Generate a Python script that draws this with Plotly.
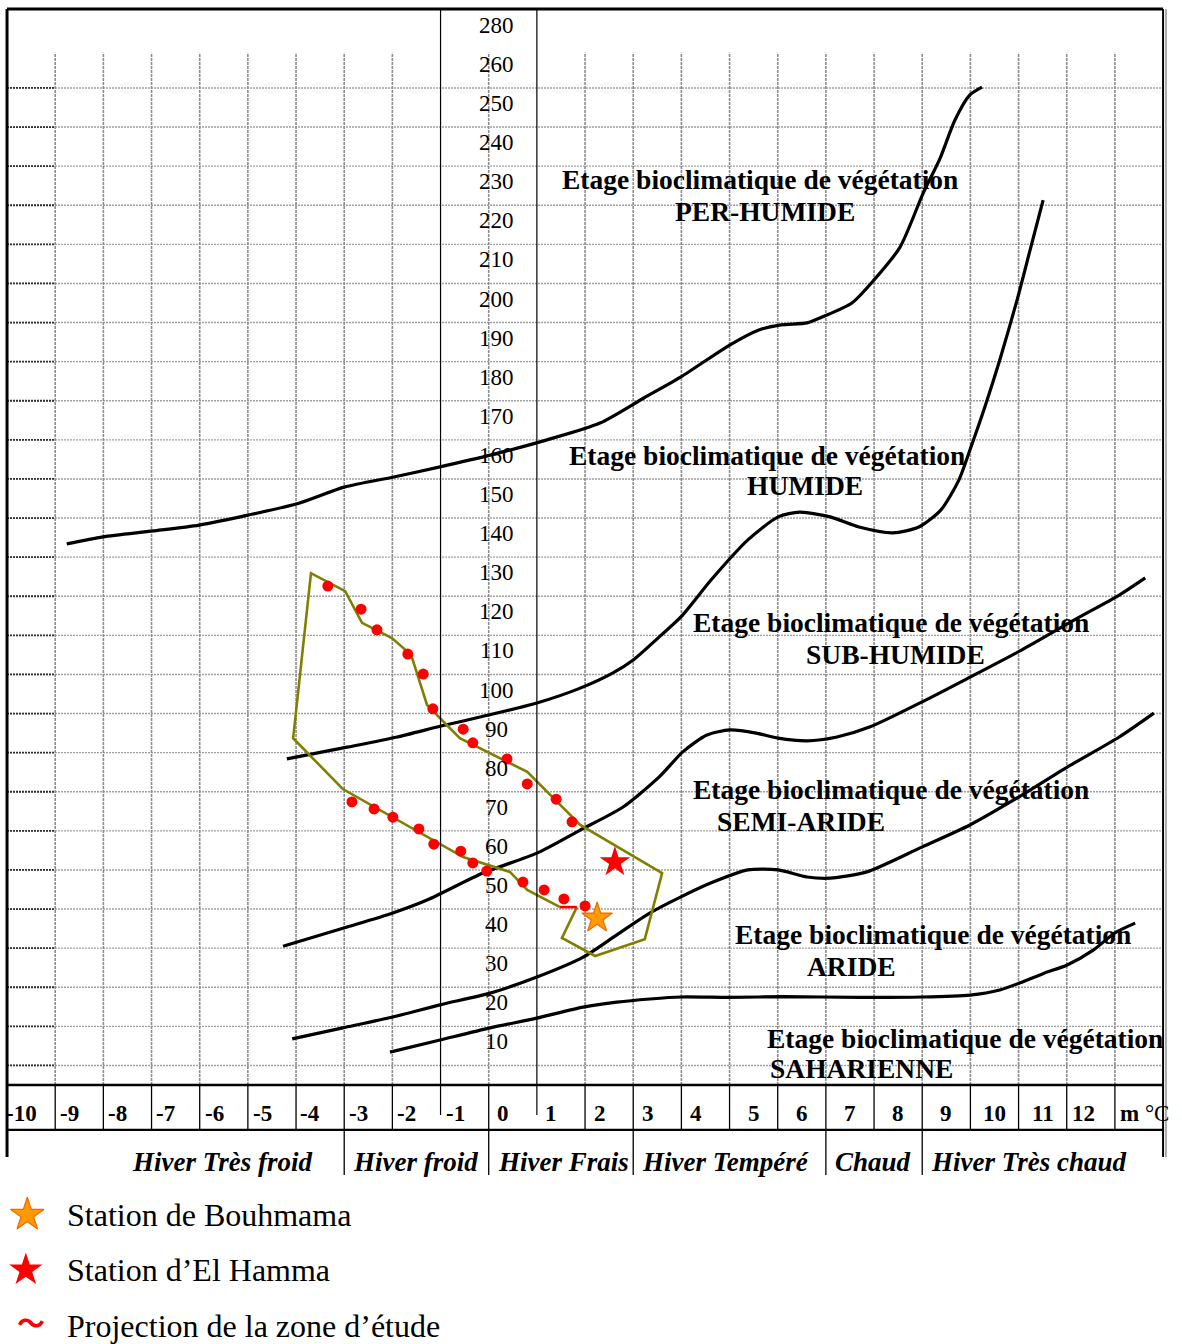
import plotly.graph_objects as go

# ---------------- data (m in °C, Q2) ----------------
per_humide_m = [-9.26, -8.51, -7.47, -6.51, -5.48, -4.44, -3.50, -2.47, -1.51, -0.47, 0.71, 1.81, 2.72, 3.49,
                4.51, 5.11, 5.57, 6.11, 6.42, 7.04, 7.50, 8.04, 8.52, 8.87, 9.18, 9.49, 9.74]
per_humide_q = [138.4, 140.2, 141.7, 143.2, 145.8, 148.8, 152.9, 155.5, 158.1, 161.1, 165.0, 169.3, 175.7, 181.1,
                189.3, 193.1, 194.4, 194.9, 196.4, 200.0, 205.9, 214.3, 228.1, 237.0, 246.8, 253.2, 255.2]

humide_m = [-4.69, -3.44, -2.40, -1.49, -0.68, 0.50, 1.40, 2.08, 2.50, 3.04, 3.49, 4.12, 4.88, 5.51, 5.96,
            6.59, 7.19, 7.89, 8.43, 8.89, 9.26, 9.49, 9.80, 10.11, 10.47, 10.74, 11.01]
humide_q = [83.4, 86.4, 89.0, 91.8, 94.1, 97.7, 101.5, 105.4, 108.7, 114.6, 119.7, 129.2, 139.4, 145.3, 146.5,
            145.3, 142.7, 141.2, 142.7, 147.1, 154.7, 162.4, 173.4, 185.4, 200.8, 213.6, 226.3]

subhumide_m = [-4.77, -3.44, -2.49, -1.78, -0.62, 0.50, 1.40, 2.29, 3.04, 3.53, 4.03, 4.51, 5.05, 5.51, 6.11,
               6.73, 7.42, 8.50, 9.49, 10.57, 11.65, 12.59, 13.13]
subhumide_q = [35.5, 40.4, 44.0, 47.3, 54.2, 59.3, 65.2, 71.1, 78.8, 85.2, 89.5, 90.8, 90.0, 88.7, 88.0,
               89.0, 91.6, 98.0, 104.3, 111.3, 118.9, 125.3, 129.7]

semiaride_m = [-4.58, -3.53, -2.49, -1.51, -0.47, 0.50, 1.46, 2.16, 2.85, 3.49, 4.12, 4.88, 5.51, 6.11, 6.59,
               7.35, 8.50, 9.49, 10.51, 11.51, 12.59, 13.31]
semiaride_q = [11.8, 14.6, 17.4, 20.5, 23.5, 27.6, 32.7, 38.4, 44.0, 48.1, 51.7, 55.0, 55.0, 53.2, 52.9,
               54.5, 60.9, 66.5, 73.7, 81.3, 89.0, 95.1]

aride_m = [-2.55, -1.51, -0.47, 0.50, 1.46, 2.16, 2.85, 3.49, 4.51, 5.65, 7.19, 8.50, 9.49, 10.11, 10.57,
           11.03, 11.51, 12.05, 12.50, 12.92]
aride_q = [8.4, 11.5, 14.6, 17.1, 19.9, 21.2, 22.0, 22.5, 22.4, 22.6, 22.4, 22.5, 23.0, 24.3, 26.3,
           28.6, 30.7, 34.5, 38.9, 41.4]

zone_m = [1.33, 1.02, 1.71, 2.74, 3.10, 1.40, 0.30, -1.10, -1.78, -2.11, -2.51, -3.13, -3.48, -4.19,
          -4.56, -3.53, -1.03, -0.06, 0.30, 0.98]
zone_q = [45.5, 37.6, 33.0, 37.3, 54.2, 66.5, 80.1, 88.7, 97.2, 110.0, 114.3, 118.2, 126.3, 130.9,
          88.7, 75.7, 58.3, 54.5, 49.9, 45.5]

proj_m = [-3.84, -3.15, -2.82, -2.18, -1.86, -1.66, -1.03, -0.83, -0.12, 0.30, 0.90, 1.23,
          -3.34, -2.88, -2.49, -1.95, -1.64, -1.08, -0.83, -0.54, 0.21, 0.65, 1.06, 1.50]
proj_q = [127.6, 121.7, 116.4, 110.2, 105.1, 96.2, 91.0, 87.5, 83.4, 77.0, 73.1, 67.3,
          72.4, 70.6, 68.5, 65.5, 61.6, 59.8, 56.8, 54.7, 51.9, 49.9, 47.6, 45.8]

bouhmama_m, bouhmama_q = [1.75], [42.7]
elhamma_m, elhamma_q = [2.12], [57.0]

y_labels = ["10", "20", "30", "40", "50", "60", "70", "80", "90", "100", "110", "120", "130", "140", "150",
            "160", "170", "180", "190", "200", "210", "220", "230", "240", "250", "260", "280"]
x_labels = ["-10", "-9", "-8", "-7", "-6", "-5", "-4", "-3", "-2", "-1", "0", "1", "2", "3", "4", "5", "6",
            "7", "8", "9", "10", "11", "12"]
seasons = ["Hiver Très froid", "Hiver froid", "Hiver Frais", "Hiver Tempéré", "Chaud", "Hiver Très chaud"]
season_limits = [-3.5, -0.5, 2.5, 6.5, 8.5]
stages = ["PER-HUMIDE", "HUMIDE", "SUB-HUMIDE", "SEMI-ARIDE", "ARIDE", "SAHARIENNE"]
legend_names = ["Station de Bouhmama", "Station d’El Hamma", "Projection de la zone d’étude"]

# ---------------- layout constants ----------------
X0, X1 = -10.5, 13.5
QTOP, QAXIS, QROW, QSEASON, QBORDER = 275.2, 0.0, -11.5, -23.0, -18.4
SERIF = "Liberation Serif"

fig = go.Figure()
shapes = []


def seg(x0, y0, x1, y1, color="black", width=1.0, dash="solid", layer="below"):
    shapes.append(dict(type="line", xref="x", yref="y", x0=x0, y0=y0, x1=x1, y1=y1,
                       line=dict(color=color, width=width, dash=dash), layer=layer))


grid_v = [m + 0.5 for m in range(-10, 13)]
grid_h = [5 + 10 * k for k in range(26)]

for q in grid_h:
    seg(X0, q, X1, q, "#a0a0a0", 1.4, "2px,1px")
    seg(X0, q, -9.5, q, "#303030", 1.8, "2px,1px")
for v in grid_v:
    if v in (-1.5, 0.5):
        seg(v, QTOP, v, -7.7, "black", 1.2, layer="above")
    else:
        seg(v, 0, v, 264, "#8c8c8c", 1.6, "3px,1px")
        seg(v, QAXIS, v, QROW, "black", 1.3, layer="above")
for v in season_limits:
    seg(v, QROW, v, QSEASON, "black", 1.3, layer="above")

# frame
seg(X0, QTOP, X1, QTOP, "black", 3, layer="above")
seg(X0, QTOP, X0, QBORDER, "black", 3, layer="above")
seg(X1, QTOP, X1, QBORDER, "black", 2, layer="above")
seg(X1 + 0.06, QTOP, X1 + 0.06, QBORDER, "#777777", 1.2, layer="above")
seg(X0, QAXIS, X1, QAXIS, "black", 2.6, layer="above")
seg(X0, QROW, X1, QROW, "black", 2.2, layer="above")

# ---------------- curves ----------------
for cm, cq in [(per_humide_m, per_humide_q), (humide_m, humide_q), (subhumide_m, subhumide_q),
               (semiaride_m, semiaride_q), (aride_m, aride_q)]:
    fig.add_trace(go.Scatter(x=cm, y=cq, mode="lines", hoverinfo="skip",
                             line=dict(color="black", width=3.2, shape="spline", smoothing=0.7)))

fig.add_trace(go.Scatter(x=zone_m, y=zone_q, mode="lines", line=dict(color="#808000", width=2.6)))
fig.add_trace(go.Scatter(x=[zone_m[-1], zone_m[0]], y=[zone_q[-1], zone_q[0]], mode="lines",
                         line=dict(color="#ff0000", width=2.6)))
fig.add_trace(go.Scatter(x=proj_m, y=proj_q, mode="markers",
                         marker=dict(color="#ff0000", size=11, line=dict(width=0))))
fig.add_trace(go.Scatter(x=elhamma_m, y=elhamma_q, mode="markers",
                         marker=dict(symbol="star", color="#ff0000", size=23, line=dict(width=0))))
fig.add_trace(go.Scatter(x=bouhmama_m, y=bouhmama_q, mode="markers",
                         marker=dict(symbol="star", color="#ff9a00", size=23,
                                     line=dict(color="#f06a00", width=1.2))))

# legend symbols (below the chart)
LEG_X = -10.08
LEG_Q = [-33.2, -47.3, -61.6]
fig.add_trace(go.Scatter(x=[LEG_X], y=[LEG_Q[0]], mode="markers",
                         marker=dict(symbol="star", color="#ff9a00", size=25,
                                     line=dict(color="#f06a00", width=1.2))))
fig.add_trace(go.Scatter(x=[LEG_X - 0.03], y=[LEG_Q[1]], mode="markers",
                         marker=dict(symbol="star", color="#ff0000", size=25, line=dict(width=0))))

annotations = []


def txt(x, y, s, size, weight="normal", style="normal", xanchor="center", color="black",
        family=SERIF, xshift=0, yshift=0):
    annotations.append(dict(x=x, y=y, xref="x", yref="y", text=s, showarrow=False,
                            xanchor=xanchor, yanchor="middle", xshift=xshift, yshift=yshift,
                            font=dict(family=family, size=size, color=color, weight=weight, style=style)))


# y labels (cell centres)
for i, lab in enumerate(y_labels):
    txt(-0.33, 10 * (i + 1) + 1.0, lab, 23)

# x labels
for lab in x_labels:
    v = float(lab)
    off = 0.2 if v < 5 else (0.15 if v >= 12 else 0.0)
    txt(v - off, -7.4, lab, 23, weight="bold")
txt(13.12, -7.4, "<b>m</b> °C", 23)

# seasons
txt(season_limits[0], -19.6, seasons[0], 27, "bold", "italic", xanchor="right", xshift=-30)
for lim, s in zip(season_limits, seasons[1:]):
    txt(lim, -19.6, s, 27, "bold", "italic", xanchor="left", xshift=7)

# stage labels
ETAGE = "Etage bioclimatique de végétation"
stage_pos = [((5.13, 231.5), (5.24, 223.5)), ((5.28, 160.9), (6.07, 153.2)),
             ((7.85, 118.4), (7.94, 110.2)), ((7.85, 75.7), (5.99, 67.5)),
             ((8.73, 38.6), (7.03, 30.4)), ((9.39, 12.0), (5.30, 4.3))]
for name, (p1, p2) in zip(stages, stage_pos):
    txt(p1[0], p1[1], ETAGE, 27.5, "bold")
    if name == "SAHARIENNE":
        txt(p2[0], p2[1], name, 27.5, "bold", xanchor="left")
    else:
        txt(p2[0], p2[1], name, 27.5, "bold")

# legend texts
for q, name in zip(LEG_Q, legend_names):
    txt(-9.3, q, name, 32, xanchor="left")
txt(LEG_X + 0.08, LEG_Q[2] + 1.0, "〜", 28, "bold", color="#ff0000", family="Noto Sans CJK JP")

fig.update_layout(
    width=1182, height=1344, autosize=False,
    margin=dict(l=0, r=0, t=0, b=0, pad=0),
    paper_bgcolor="white", plot_bgcolor="white",
    showlegend=False,
    xaxis=dict(range=[-10.646, 13.893], visible=False, fixedrange=True),
    yaxis=dict(range=[-66.24, 277.49], visible=False, fixedrange=True),
    shapes=shapes, annotations=annotations,
)

fig.write_html("out.html", config={"displayModeBar": False},
               post_script="document.body.style.margin='0';document.body.style.overflow='hidden';")
